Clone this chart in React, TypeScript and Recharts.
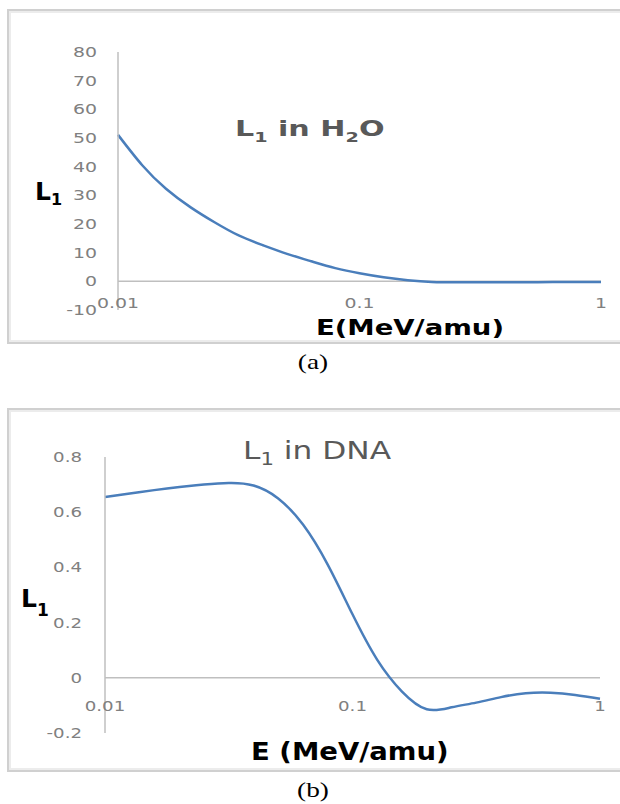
import { LineChart, Line, XAxis, YAxis, ReferenceLine } from "recharts";

// energies read every 0.1 decade, 0.01 .. 1 MeV/amu
const energy = [
  0.01, 0.0126, 0.0158, 0.02, 0.0251, 0.0316, 0.0398, 0.0501, 0.0631, 0.0794, 0.1,
  0.1259, 0.1585, 0.1995, 0.2512, 0.3162, 0.3981, 0.5012, 0.631, 0.7943, 1,
];

// panel (a): L1 in H2O
const l1H2O = [
  51.1, 40.5, 32.3, 25.8, 20.6, 16.0, 12.6, 9.6, 7.0, 4.6, 2.8,
  1.4, 0.4, -0.2, -0.35, -0.35, -0.3, -0.3, -0.25, -0.2, -0.2,
];
const yTicksA = [-10, 0, 10, 20, 30, 40, 50, 60, 70, 80];

// panel (b): L1 in DNA
const l1DNA = [
  0.655, 0.668, 0.68, 0.691, 0.7, 0.706, 0.697, 0.65, 0.555, 0.41, 0.23,
  0.065, -0.05, -0.114, -0.107, -0.09, -0.07, -0.056, -0.054, -0.062, -0.076,
];
const yTicksB = [-0.2, 0, 0.2, 0.4, 0.6, 0.8];

const xTicks = [0.01, 0.1, 1];

const LINE = "#4a7ebb";
const AXIS = "#bfbfbf";
const TICK = "#808080";

const dataA = energy.map((e, i) => ({ e, v: l1H2O[i] }));
const dataB = energy.map((e, i) => ({ e, v: l1DNA[i] }));

function makeYTick(sx: number) {
  return (props: any) => {
    const { x, y, payload } = props;
    return (
      <text
        transform={`translate(${x},${y}) scale(${sx},1)`}
        dy={5}
        textAnchor="end"
        fontFamily="DejaVu Sans"
        fontSize={14}
        fill={TICK}
      >
        {payload.value}
      </text>
    );
  };
}

function makeXTick(sx: number, dy: number) {
  return (props: any) => {
    const { x, y, payload } = props;
    return (
      <text
        transform={`translate(${x},${y}) scale(${sx},1)`}
        dy={dy}
        textAnchor="middle"
        fontFamily="DejaVu Sans"
        fontSize={14}
        fill={TICK}
      >
        {payload.value}
      </text>
    );
  };
}

const frame = (top: number, height: number): React.CSSProperties => ({
  position: "absolute",
  left: 7,
  top,
  width: 630,
  height,
  boxSizing: "border-box",
  border: "2px solid #d0d0d0",
  boxShadow: "inset 0 0 0 2px #ececec",
});

export default function App() {
  return (
    <div
      style={{
        position: "absolute",
        left: 0,
        top: 0,
        width: 620,
        height: 804,
        overflow: "hidden",
        background: "#fff",
      }}
    >
      <div style={frame(9, 335)} />
      <div style={frame(408, 364)} />

      <div style={{ position: "absolute", left: 0, top: 0 }}>
        <LineChart width={620} height={345} data={dataA} margin={{ top: 52, right: 19, bottom: 15, left: 58 }}>
          <XAxis
            dataKey="e"
            type="number"
            scale="log"
            domain={[0.01, 1]}
            ticks={xTicks}
            height={20}
            axisLine={false}
            tickLine={false}
            tickSize={0}
            tickMargin={0}
            tick={makeXTick(1.35, -2)}
          />
          <YAxis
            type="number"
            domain={[-10, 80]}
            ticks={yTicksA}
            width={60}
            axisLine={{ stroke: AXIS, strokeWidth: 1.5 }}
            tickLine={false}
            tickSize={0}
            tickMargin={21}
            tick={makeYTick(1.35)}
          />
          <ReferenceLine y={0} stroke={AXIS} strokeWidth={1.5} />
          <Line type="natural" dataKey="v" stroke={LINE} strokeWidth={2.5} dot={false} isAnimationActive={false} />
        </LineChart>
      </div>

      <div style={{ position: "absolute", left: 0, top: 400 }}>
        <LineChart width={620} height={375} data={dataB} margin={{ top: 57, right: 20, bottom: 22, left: 45 }}>
          <XAxis
            dataKey="e"
            type="number"
            scale="log"
            domain={[0.01, 1]}
            ticks={xTicks}
            height={20}
            axisLine={false}
            tickLine={false}
            tickSize={0}
            tickMargin={0}
            tick={makeXTick(1.3, -22)}
          />
          <YAxis
            type="number"
            domain={[-0.2, 0.8]}
            ticks={yTicksB}
            width={60}
            axisLine={{ stroke: AXIS, strokeWidth: 1.5 }}
            tickLine={false}
            tickSize={0}
            tickMargin={23}
            tick={makeYTick(1.3)}
          />
          <ReferenceLine y={0} stroke={AXIS} strokeWidth={1.5} />
          <Line type="natural" dataKey="v" stroke={LINE} strokeWidth={2.5} dot={false} isAnimationActive={false} />
        </LineChart>
      </div>

      <svg
        width={620}
        height={804}
        style={{ position: "absolute", left: 0, top: 0, pointerEvents: "none", whiteSpace: "pre" }}
      >
        {/* panel (a) labels */}
        <text transform="translate(235,136) scale(1.37,1)" fontFamily="DejaVu Sans" fontWeight="bold" fontSize={22} fill="#595959">
          L<tspan dy={6} fontSize={14}>1</tspan>
          <tspan dy={-6}> in H</tspan>
          <tspan dy={6} fontSize={14}>2</tspan>
          <tspan dy={-6}>O</tspan>
        </text>
        <text x={35} y={200} fontFamily="DejaVu Sans" fontWeight="bold" fontSize={25} fill="#000">
          L<tspan dy={5} fontSize={16}>1</tspan>
        </text>
        <text transform="translate(316,335) scale(1.25,1)" fontFamily="DejaVu Sans" fontWeight="bold" fontSize={22} fill="#000">
          E(MeV/amu)
        </text>
        <text transform="translate(313,369) scale(1.3,1)" textAnchor="middle" fontFamily="Liberation Serif" fontSize={21} fill="#000">
          (a)
        </text>

        {/* panel (b) labels */}
        <text transform="translate(243,459) scale(1.25,1)" fontFamily="DejaVu Sans" fontSize={25} fill="#595959">
          L<tspan dy={6} fontSize={17}>1</tspan>
          <tspan dy={-6}>  in DNA</tspan>
        </text>
        <text x={21} y={607} fontFamily="DejaVu Sans" fontWeight="bold" fontSize={25} fill="#000">
          L<tspan dy={9} fontSize={17}>1</tspan>
        </text>
        <text transform="translate(251,760) scale(1.1,1)" fontFamily="DejaVu Sans" fontWeight="bold" fontSize={25} fill="#000">
          E (MeV/amu)
        </text>
        <text transform="translate(313,797) scale(1.3,1)" textAnchor="middle" fontFamily="Liberation Serif" fontSize={21} fill="#000">
          (b)
        </text>
      </svg>
    </div>
  );
}
